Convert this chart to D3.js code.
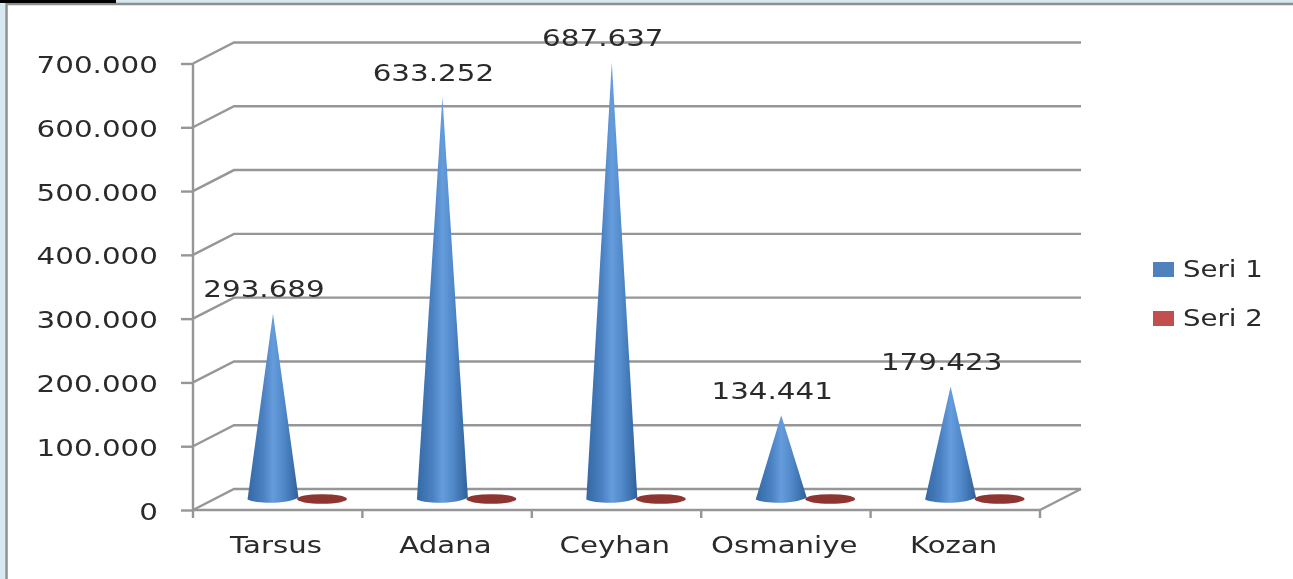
<!DOCTYPE html>
<html>
<head>
<meta charset="utf-8">
<script src="https://cdn.jsdelivr.net/npm/d3@7"></script>
<style>
  html, body { margin: 0; padding: 0; background: #fff; overflow: hidden; }
  text { font-family: "DejaVu Sans", sans-serif; fill: #2b2b2b; }
</style>
</head>
<body>
<div id="container"></div>
<script>
//chart data
var categories = ["Tarsus", "Adana", "Ceyhan", "Osmaniye", "Kozan"];
var seri1 = [293689, 633252, 687637, 134441, 179423];
var seri2 = [0, 0, 0, 0, 0];
var seriesNames = ["Seri 1", "Seri 2"];
var yTicks = [0, 100000, 200000, 300000, 400000, 500000, 600000, 700000];

var width = 1293, height = 579;
var depthX = 41, depthY = 21; //3d offset of the back wall

var svg = d3.select("#container").append("svg")
    .attr("width", width)
    .attr("height", height)
    .style("display", "block");

var defs = svg.append("defs");

defs.append("filter").attr("id", "soft")
    .append("feGaussianBlur").attr("stdDeviation", 0.5);

var coneGrad = defs.append("linearGradient").attr("id", "cone");
[["0%", "#3468a4"], ["30%", "#4a80c2"], ["50%", "#659cdc"], ["72%", "#4f87c8"], ["100%", "#30609a"]]
    .forEach(function (s) {
        coneGrad.append("stop").attr("offset", s[0]).attr("stop-color", s[1]);
    });

//window frame, only top and left edges show
svg.append("rect").attr("width", width).attr("height", height).attr("fill", "#fff");
svg.append("rect").attr("width", width).attr("height", 3).attr("fill", "#d6e9f0");
svg.append("rect").attr("width", 5).attr("height", height).attr("fill", "#d6e9f0");
svg.append("path").attr("d", "M6.5," + height + "V4H" + width)
    .attr("fill", "none").attr("stroke", "#8f8f8f").attr("stroke-width", 2.5);
svg.append("rect").attr("width", 116).attr("height", 3).attr("fill", "#000");

var plot = svg.append("g").attr("filter", "url(#soft)");

//scales
var x = d3.scaleBand().domain(categories).range([193, 1040]);
var y = d3.scaleLinear().domain([0, 700000]).range([510, 63.5]);
var trLocale = d3.formatLocale({ decimal: ",", thousands: ".", grouping: [3], currency: ["", ""] });
var fmt = trLocale.format(",d");
var gridColor = "#969696";

//back wall lines and side wall diagonals
var grid = plot.append("g").attr("fill", "none").attr("stroke", gridColor).attr("stroke-width", 2.4);
yTicks.forEach(function (t) {
    grid.append("path").attr("d", d3.line()([
        [x.range()[0], y(t)],
        [x.range()[0] + depthX, y(t) - depthY],
        [x.range()[1] + depthX, y(t) - depthY]
    ]));
});
//floor edges
grid.append("path").attr("d", d3.line()([
    [x.range()[1], y(0)],
    [x.range()[1] + depthX, y(0) - depthY]
]));

//axes
var yAxis = d3.axisLeft(y).tickValues(yTicks).tickFormat(fmt).tickSize(12).tickPadding(23);
var yG = plot.append("g").attr("transform", "translate(193,0)").call(yAxis);
var xAxis = d3.axisBottom(x).tickValues([]).tickSize(0);
var xG = plot.append("g").attr("transform", "translate(0,510)").call(xAxis);
[yG, xG].forEach(function (g) {
    g.selectAll("path, line").attr("stroke", gridColor).attr("stroke-width", 2.4);
});
yG.select(".domain").attr("d", "M0," + y(700000) + "V" + y(0));
xG.select(".domain").attr("d", "M" + x.range()[0] + ",0H" + x.range()[1]);

//x ticks sit on the band edges
plot.append("g").selectAll("line")
    .data(categories.concat(["end"]))
    .enter().append("line")
    .attr("x1", function (d, i) { return x.range()[0] + i * x.bandwidth(); })
    .attr("x2", function (d, i) { return x.range()[0] + i * x.bandwidth(); })
    .attr("y1", 510).attr("y2", 518)
    .attr("stroke", gridColor).attr("stroke-width", 2.4);

//labels in the picture are wider than the font
function wideText(sel, anchorX, anchorY, stretch) {
    sel.attr("transform", "translate(" + anchorX + "," + anchorY + ") scale(" + stretch + ",1)")
        .attr("x", 0).attr("y", 0).attr("dy", 0);
}

yG.selectAll(".tick text").each(function (d) {
    d3.select(this)
        .style("font-size", "23.5px")
        .attr("text-anchor", "end")
        .call(wideText, -35, 9, 1.25);
});

//category labels
plot.append("g").selectAll("text")
    .data(categories)
    .enter().append("text")
    .style("font-size", "23px")
    .attr("text-anchor", "middle")
    .text(function (d) { return d; })
    .each(function (d) {
        d3.select(this).call(wideText, x(d) + 83, 553, 1.27);
    });

//cones: the floor plane sits half way into the depth of the box
var coneR = 25.5, coneRy = 3.6, baseLift = 10.5;
var serie1X = function (d) { return x(d) + 80; };
var serie2X = function (d) { return x(d) + 129; };

var cones = plot.append("g");
categories.forEach(function (c, i) {
    var cx = serie1X(c);
    var baseY = y(0) - baseLift;
    var p = d3.path();
    p.moveTo(cx, y(seri1[i]) - 9);
    p.lineTo(cx + coneR, baseY - 2);
    p.bezierCurveTo(cx + coneR * 0.6, baseY + coneRy * 1.3, cx - coneR * 0.6, baseY + coneRy * 1.3, cx - coneR, baseY);
    p.closePath();
    cones.append("path").attr("d", p.toString()).attr("fill", "url(#cone)");

    //second series has no height, only its base shows
    plot.append("ellipse")
        .attr("cx", serie2X(c))
        .attr("cy", y(seri2[i]) - 11)
        .attr("rx", 25).attr("ry", 4.8)
        .attr("fill", "#8e3431");

    //value label
    plot.append("text")
        .style("font-size", "23.5px")
        .attr("text-anchor", "middle")
        .text(fmt(seri1[i]))
        .call(wideText, cx - 9, y(seri1[i]) - 25.5, 1.25);
});

//legend
var legendColors = ["#4f81bd", "#c0504d"];
var legend = plot.append("g").selectAll("g")
    .data(seriesNames)
    .enter().append("g")
    .attr("transform", function (d, i) { return "translate(1153," + (262 + i * 49) + ")"; });
legend.append("rect").attr("width", 21).attr("height", 15)
    .attr("fill", function (d, i) { return legendColors[i]; });
legend.append("text")
    .style("font-size", "23px")
    .text(function (d) { return d; })
    .call(wideText, 30, 15, 1.2);
</script>
</body>
</html>
